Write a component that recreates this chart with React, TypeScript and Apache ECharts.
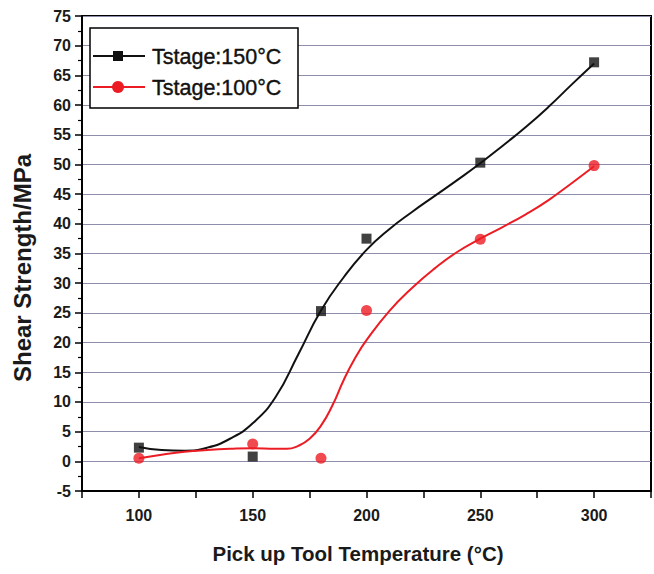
import React, { useEffect, useRef } from "react";
import * as echarts from "echarts";

// Measured points
const temps = [100, 150, 180, 200, 250, 300];
const strength150 = [2.3, 0.8, 25.3, 37.5, 50.3, 67.2];
const strength100 = [0.5, 2.9, 0.5, 25.4, 37.4, 49.8];

// Fitted curves
const curve150X = [100, 110, 120, 130, 140, 150, 160, 170, 180, 190, 200, 210, 220, 230, 240, 250, 260, 270, 280, 290, 300];
const curve150Y = [2.4, 1.9, 1.8, 2.3, 3.8, 6.4, 10.8, 18.0, 25.4, 31.0, 35.6, 39.1, 42.0, 44.7, 47.4, 50.2, 53.2, 56.3, 59.7, 63.4, 67.0];
const curve100X = [100, 110, 120, 130, 140, 150, 160, 165, 170, 175, 180, 185, 190, 195, 200, 210, 220, 230, 240, 250, 260, 270, 280, 290, 300];
const curve100Y = [0.5, 1.1, 1.6, 1.9, 2.1, 2.2, 2.1, 2.1, 2.6, 3.8, 6.0, 9.4, 13.7, 17.4, 20.4, 25.3, 29.2, 32.5, 35.3, 37.5, 39.5, 41.6, 44.0, 46.8, 49.7];

const seriesNames = ["Tstage:150°C", "Tstage:100°C"];
const xTitle = "Pick up Tool Temperature (°C)";
const yTitle = "Shear Strength/MPa";

const FONT = "'Liberation Sans', Arial, sans-serif";
const BLACK = "#111111";
const RED = "#ec1c24";
const TEXT = "#1a1a1a";

const zip = (a: number[], b: number[]) => a.map((v, i) => [v, b[i]]);

export default function App() {
  const ref = useRef<HTMLDivElement>(null);
  useEffect(() => {
    if (!ref.current) return;
    const chart = echarts.init(ref.current, null, { renderer: "svg" });
    chart.setOption({
      animation: false,
      backgroundColor: "#ffffff",
      grid: {
        left: 82,
        top: 16,
        width: 579,
        height: 475,
        show: true,
        borderColor: "#000",
        borderWidth: 2,
        backgroundColor: "transparent",
      },
      xAxis: {
        type: "value",
        min: 75,
        max: 325,
        interval: 25,
        axisLine: { show: true, onZero: false, lineStyle: { color: "#000", width: 2 } },
        axisTick: { show: true, length: 7, lineStyle: { color: "#000", width: 1.5 } },
        splitLine: { show: false },
        axisLabel: {
          margin: 16,
          fontSize: 16,
          fontWeight: "bold",
          fontFamily: FONT,
          color: TEXT,
          formatter: (v: number) => (v % 50 === 0 ? String(v) : ""),
        },
      },
      yAxis: {
        type: "value",
        min: -5,
        max: 75,
        interval: 5,
        axisLine: { show: true, onZero: false, lineStyle: { color: "#000", width: 2 } },
        axisTick: { show: true, length: 7, lineStyle: { color: "#000", width: 1.5 } },
        minorTick: { show: true, splitNumber: 2, length: 4, lineStyle: { color: "#000", width: 1.2 } },
        splitLine: { show: true, lineStyle: { color: "#8e8eac", width: 1.2 } },
        axisLabel: {
          margin: 11,
          fontSize: 16,
          fontWeight: "bold",
          fontFamily: FONT,
          color: TEXT,
        },
      },
      series: [
        {
          name: seriesNames[0] + " fit",
          type: "line",
          data: zip(curve150X, curve150Y),
          smooth: 0.5,
          showSymbol: false,
          lineStyle: { color: BLACK, width: 2 },
          z: 2,
        },
        {
          name: seriesNames[1] + " fit",
          type: "line",
          data: zip(curve100X, curve100Y),
          smooth: 0.5,
          showSymbol: false,
          lineStyle: { color: RED, width: 2 },
          z: 2,
        },
        {
          name: seriesNames[0],
          type: "scatter",
          data: zip(temps, strength150),
          symbol: "rect",
          symbolSize: 10,
          itemStyle: { color: BLACK },
          z: 3,
        },
        {
          name: seriesNames[1],
          type: "scatter",
          data: zip(temps, strength100),
          symbol: "circle",
          symbolSize: 11,
          itemStyle: { color: RED },
          z: 3,
        },
      ],
      graphic: [
        {
          type: "rect",
          shape: { x: 90, y: 28, width: 208, height: 80 },
          style: { fill: "#fff", stroke: "#000", lineWidth: 1.5 },
          z: 10,
        },
        { type: "line", shape: { x1: 93, y1: 56, x2: 145, y2: 56 }, style: { stroke: BLACK, lineWidth: 2 }, z: 11 },
        { type: "rect", shape: { x: 113, y: 51, width: 10, height: 10 }, style: { fill: BLACK }, z: 12 },
        {
          type: "text",
          x: 152,
          y: 57,
          style: { text: seriesNames[0], fontSize: 21.5, fontFamily: FONT, fill: "#111", verticalAlign: "middle", align: "left", stroke: "#111", lineWidth: 0.4 },
          z: 12,
        },
        { type: "line", shape: { x1: 93, y1: 87, x2: 145, y2: 87 }, style: { stroke: RED, lineWidth: 2 }, z: 11 },
        { type: "circle", shape: { cx: 118, cy: 87, r: 6 }, style: { fill: RED }, z: 12 },
        {
          type: "text",
          x: 152,
          y: 88,
          style: { text: seriesNames[1], fontSize: 21.5, fontFamily: FONT, fill: "#111", verticalAlign: "middle", align: "left", stroke: "#111", lineWidth: 0.4 },
          z: 12,
        },
        {
          type: "text",
          x: 358,
          y: 553,
          style: { text: xTitle, fontSize: 20.5, fontWeight: "bold", fontFamily: FONT, fill: TEXT, align: "center", verticalAlign: "middle" },
        },
        {
          type: "text",
          x: 22,
          y: 268,
          rotation: Math.PI / 2,
          style: { text: yTitle, fontSize: 24, fontWeight: "bold", fontFamily: FONT, fill: TEXT, align: "center", verticalAlign: "middle" },
        },
      ],
    });
    return () => chart.dispose();
  }, []);
  return <div ref={ref} style={{ width: 654, height: 574, position: "absolute", left: 0, top: 0 }} />;
}
